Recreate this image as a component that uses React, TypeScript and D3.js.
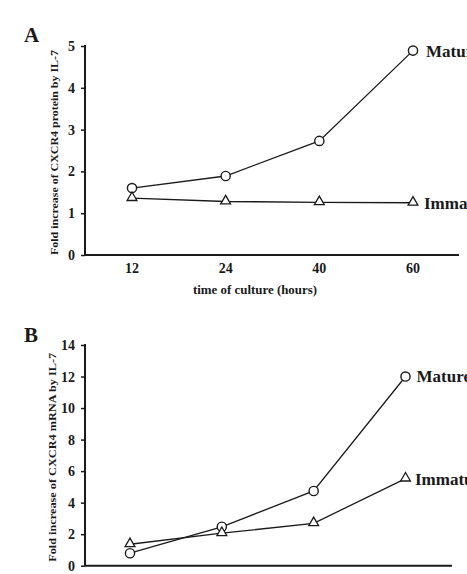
import { useEffect, useRef } from "react"
import * as d3 from "d3"

const hours = ["12", "24", "40", "60"]

// panel A: protein
const proteinMature = [1.6, 1.89, 2.73, 4.89]
const proteinImmature = [1.36, 1.28, 1.26, 1.25]
const proteinTicks = [0, 1, 2, 3, 4, 5]

// panel B: mRNA
const mrnaMature = [0.79, 2.47, 4.74, 12.0]
const mrnaImmature = [1.36, 2.06, 2.69, 5.52]
const mrnaTicks = [0, 2, 4, 6, 8, 10, 12, 14]

const seriesNames = ["Mature", "Immature"]

const FONT = "'Liberation Serif', 'Times New Roman', serif"
const INK = "#1a1a1a"

interface PanelOpts {
  letter: string
  yLabel: string
  mature: number[]
  immature: number[]
  ticks: number[]
  xRange: [number, number]
  yRange: [number, number]
  axisLeft: number
  axisRight: number
  showXAxisText: boolean
  yLabelX: number
  yLabelLen: number
  letterY: number
  nameOffsets: [number, number]
}

export default function App() {
  const svgRef = useRef<SVGSVGElement>(null)

  useEffect(() => {
    const svg = d3.select(svgRef.current)
    svg.selectAll("*").remove()

    const drawPanel = (o: PanelOpts) => {
      const g = svg.append("g").attr("font-family", FONT).attr("font-weight", "bold").attr("fill", INK)

      const x = d3.scalePoint<string>().domain(hours).range(o.xRange)
      const y = d3
        .scaleLinear()
        .domain([0, o.ticks[o.ticks.length - 1]])
        .range(o.yRange)

      // panel letter
      g.append("text")
        .attr("x", 24)
        .attr("y", o.letterY)
        .attr("font-size", "21px")
        .text(o.letter)

      // y axis
      const yAxis = g.append("g")
        .attr("transform", `translate(${o.axisLeft},0)`)
        .call(d3.axisLeft(y).tickValues(o.ticks).tickSize(4).tickPadding(6).tickFormat(d3.format("d")))
      yAxis.select(".domain").attr("stroke", INK).attr("stroke-width", 2).attr("d", `M0,${o.yRange[1] - 1}V${o.yRange[0]}`)
      yAxis.selectAll(".tick line").attr("stroke", INK).attr("stroke-width", 1.5)
      yAxis.selectAll(".tick text")
        .attr("font-family", FONT)
        .attr("font-weight", "bold")
        .attr("font-size", "14px")
        .attr("fill", INK)

      // x axis baseline
      g.append("line")
        .attr("x1", o.axisLeft)
        .attr("x2", o.axisRight)
        .attr("y1", o.yRange[0])
        .attr("y2", o.yRange[0])
        .attr("stroke", INK)
        .attr("stroke-width", 2)

      if (o.showXAxisText) {
        g.selectAll(".xlab")
          .data(hours)
          .enter()
          .append("text")
          .attr("x", d => x(d)!)
          .attr("y", o.yRange[0] + 18)
          .attr("text-anchor", "middle")
          .attr("font-size", "14px")
          .text(d => d)

        g.append("text")
          .attr("x", 255)
          .attr("y", o.yRange[0] + 39)
          .attr("text-anchor", "middle")
          .attr("font-size", "12px")
          .attr("textLength", 124)
          .attr("lengthAdjust", "spacingAndGlyphs")
          .text("time of culture (hours)")
      }

      // y axis title
      const midY = (o.yRange[0] + o.yRange[1]) / 2 + 2
      g.append("text")
        .attr("transform", `translate(${o.yLabelX},${midY}) rotate(-90)`)
        .attr("text-anchor", "middle")
        .attr("dy", "0.35em")
        .attr("font-size", "11px")
        .attr("textLength", o.yLabelLen)
        .attr("lengthAdjust", "spacingAndGlyphs")
        .text(o.yLabel)

      const line = d3
        .line<number>()
        .x((_, i) => x(hours[i])!)
        .y(d => y(d))

      const series = [o.mature, o.immature]
      series.forEach((vals, si) => {
        g.append("path")
          .datum(vals)
          .attr("d", line)
          .attr("fill", "none")
          .attr("stroke", INK)
          .attr("stroke-width", 1.3)

        if (si === 0) {
          g.selectAll(`.c${si}`)
            .data(vals)
            .enter()
            .append("circle")
            .attr("cx", (_, i) => x(hours[i])!)
            .attr("cy", d => y(d))
            .attr("r", 4.6)
            .attr("fill", "white")
            .attr("stroke", INK)
            .attr("stroke-width", 1.4)
        } else {
          const tri = d3.symbol().type(d3.symbolTriangle).size(42)
          g.selectAll(`.t${si}`)
            .data(vals)
            .enter()
            .append("path")
            .attr("d", tri)
            .attr("transform", (d, i) => `translate(${x(hours[i])},${y(d) - 0.5})`)
            .attr("fill", "white")
            .attr("stroke", INK)
            .attr("stroke-width", 1.3)
        }

        // series name at the end of the line
        const last = vals[vals.length - 1]
        g.append("text")
          .attr("x", x(hours[hours.length - 1])! + o.nameOffsets[si])
          .attr("y", y(last))
          .attr("dy", "0.35em")
          .attr("font-size", "17px")
          .text(seriesNames[si])
      })
    }

    drawPanel({
      letter: "A",
      yLabel: "Fold increase of CXCR4 protein by IL-7",
      mature: proteinMature,
      immature: proteinImmature,
      ticks: proteinTicks,
      xRange: [132, 413],
      yRange: [255, 46],
      axisLeft: 85,
      axisRight: 459,
      showXAxisText: true,
      yLabelX: 54,
      yLabelLen: 205,
      letterY: 42,
      nameOffsets: [13, 11],
    })

    drawPanel({
      letter: "B",
      yLabel: "Fold increase of CXCR4 mRNA by IL-7",
      mature: mrnaMature,
      immature: mrnaImmature,
      ticks: mrnaTicks,
      xRange: [130, 405.5],
      yRange: [565.7, 345],
      axisLeft: 85,
      axisRight: 452,
      showXAxisText: false,
      yLabelX: 52,
      yLabelLen: 209,
      letterY: 342,
      nameOffsets: [11, 9.5],
    })
  }, [])

  return (
    <svg
      ref={svgRef}
      width={467}
      height={574}
      style={{ position: "absolute", left: 0, top: 0, background: "white" }}
    ></svg>
  )
}
